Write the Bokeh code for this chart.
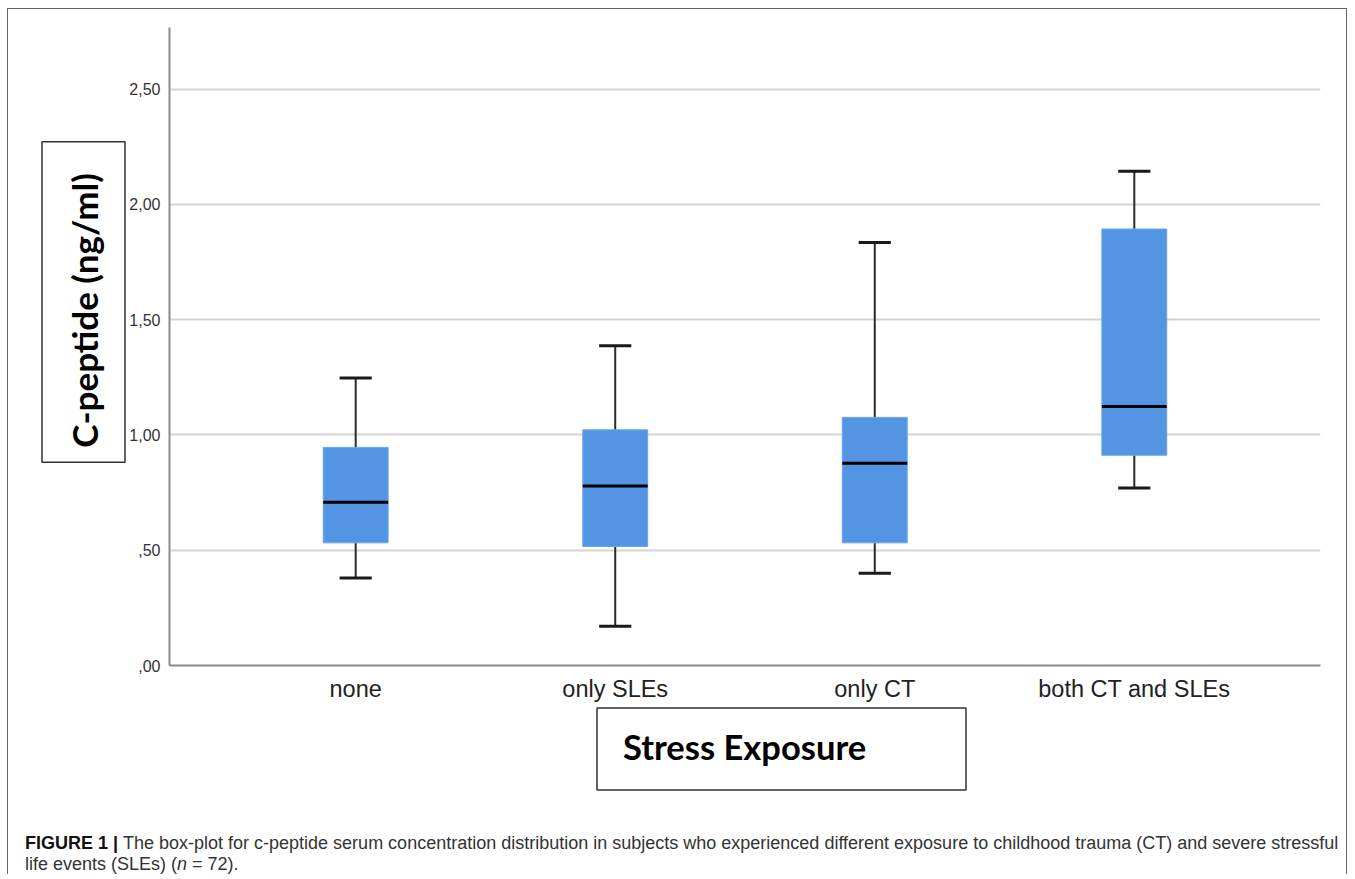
import math
from bokeh.plotting import figure
from bokeh.layouts import column, row
from bokeh.models import FactorRange, Range1d, FixedTicker, ColumnDataSource
from bokeh.transform import dodge
from bokeh.core.properties import value
from bokeh.embed import file_html
from bokeh.resources import INLINE

# ---- data ----
categories = ["none", "only SLEs", "only CT", "both CT and SLEs"]
whisker_low = [0.38, 0.17, 0.40, 0.77]
q1 = [0.532, 0.516, 0.532, 0.912]
median = [0.708, 0.779, 0.877, 1.123]
q3 = [0.946, 1.022, 1.076, 1.893]
whisker_high = [1.247, 1.387, 1.835, 2.144]

ytick_values = [0.0, 0.5, 1.0, 1.5, 2.0, 2.5]
ytick_labels = [",00", ",50", "1,00", "1,50", "2,00", "2,50"]

y_title = "C-peptide  (ng/ml)"
x_title = "Stress Exposure"
caption_bold = "FIGURE 1 |"
caption_line1 = ("The box-plot for c-peptide serum concentration distribution in subjects who "
                 "experienced different exposure to childhood trauma (CT) and severe stressful")
caption_line2a = "life events (SLEs) ("
caption_line2b = "n"
caption_line2c = "= 72)."

# ---- layout sizes ----
W = 1338
LEFT_W = 118
TOP_H = 695
BOT_H = 170


def blank(width, height):
    f = figure(width=width, height=height, x_range=Range1d(0, width), y_range=Range1d(0, height),
               x_axis_type=None, y_axis_type=None, output_backend="svg", toolbar_location=None,
               min_border=0, min_border_left=0, min_border_right=0, min_border_top=0, min_border_bottom=0)
    f.outline_line_color = None
    f.background_fill_color = "white"
    f.border_fill_color = "white"
    return f


# ---- main chart ----
p = figure(
    x_range=FactorRange(factors=categories, range_padding=0.1087),
    y_range=Range1d(0, 2.767),
    width=W - LEFT_W, height=TOP_H,
    output_backend="svg", toolbar_location=None,
    min_border_left=40, min_border_right=26, min_border_top=18, min_border_bottom=39,
)
p.outline_line_color = None
p.background_fill_color = "white"
p.border_fill_color = "white"

src = ColumnDataSource(dict(cat=categories, lo=whisker_low, q1=q1, med=median, q3=q3, hi=whisker_high))

p.segment(x0="cat", y0="q3", x1="cat", y1="hi", source=src, line_color="#2a2a2a", line_width=2)
p.segment(x0="cat", y0="q1", x1="cat", y1="lo", source=src, line_color="#2a2a2a", line_width=2)
p.segment(x0=dodge("cat", -0.062, range=p.x_range), y0="hi", x1=dodge("cat", 0.062, range=p.x_range), y1="hi",
          source=src, line_color="#1a1a1a", line_width=3)
p.segment(x0=dodge("cat", -0.062, range=p.x_range), y0="lo", x1=dodge("cat", 0.062, range=p.x_range), y1="lo",
          source=src, line_color="#1a1a1a", line_width=3)
p.vbar(x="cat", bottom="q1", top="q3", width=0.25, source=src, fill_color="#5394e3", line_color="#6aa4ea", line_width=1)
p.segment(x0=dodge("cat", -0.125, range=p.x_range), y0="med", x1=dodge("cat", 0.125, range=p.x_range), y1="med",
          source=src, line_color="black", line_width=3)

p.yaxis.ticker = FixedTicker(ticks=ytick_values)
p.yaxis.major_label_overrides = {v: l for v, l in zip(ytick_values, ytick_labels)}
for ax in (p.xaxis[0], p.yaxis[0]):
    ax.axis_line_color = "#8a8a8a"
    ax.axis_line_width = 2
    ax.major_tick_line_color = None
    ax.minor_tick_line_color = None
    ax.major_tick_out = 0
    ax.major_tick_in = 0
    ax.minor_tick_out = 0
    ax.minor_tick_in = 0
    ax.major_label_text_font = "Liberation Sans"
    ax.major_label_text_color = "#333333"
p.yaxis.major_label_text_font_size = "16px"
p.yaxis.major_label_standoff = 9
p.xaxis.major_label_text_font_size = "23.5px"
p.xaxis.major_label_text_color = "#222222"
p.xaxis.major_label_standoff = 10

p.xgrid.grid_line_color = None
p.ygrid.grid_line_color = "#d4d4d4"
p.ygrid.grid_line_width = 2

# ---- left panel: y title in a box ----
lf = blank(LEFT_W, TOP_H)
lf.quad(left=[33.5], right=[116.5], top=[TOP_H - 124.5], bottom=[TOP_H - 473.5],
        fill_color=None, line_color="#333333", line_width=1.5)
lf.text(x=[75], y=[TOP_H - 303.5], text=[y_title], angle=math.pi / 2,
        text_align="center", text_baseline="middle", text_font=value("Lato"), text_font_style="bold",
        text_font_size=value("35px"), text_color="black")

# ---- bottom panel: x title box and caption ----
bf = blank(W, BOT_H)
bf.quad(left=[588.5], right=[957.5], top=[BOT_H - 3.5], bottom=[BOT_H - 85.5],
        fill_color=None, line_color="#333333", line_width=1.5)
bf.text(x=[614.5], y=[BOT_H - 41.5], text=[x_title], text_align="left", text_baseline="middle",
        text_font=value("Lato"), text_font_style="bold", text_font_size=value("34.5px"), text_color="black")

cap = dict(text_align="left", text_baseline="alphabetic", text_font=value("Liberation Sans"),
           text_font_size=value("18px"))
bf.text(x=[16.5], y=[BOT_H - 138.5], text=[caption_bold], text_font_style="bold", text_color="#111111", **cap)
bf.text(x=[114.5], y=[BOT_H - 138.5], text=[caption_line1], text_color="#333333", **cap)
bf.text(x=[16.5], y=[BOT_H - 159.5], text=[caption_line2a], text_color="#333333", **cap)
bf.text(x=[168.5], y=[BOT_H - 159.5], text=[caption_line2b], text_font_style="italic", text_color="#333333", **cap)
bf.text(x=[183.5], y=[BOT_H - 159.5], text=[caption_line2c], text_color="#333333", **cap)

layout = column(row(lf, p), bf,
                styles={"margin-left": "7px", "margin-top": "8px",
                        "border-left": "1.5px solid #666666", "border-top": "1.5px solid #666666",
                        "border-right": "1.5px solid #666666"})

open("out.html", "w").write(file_html(layout, INLINE))
